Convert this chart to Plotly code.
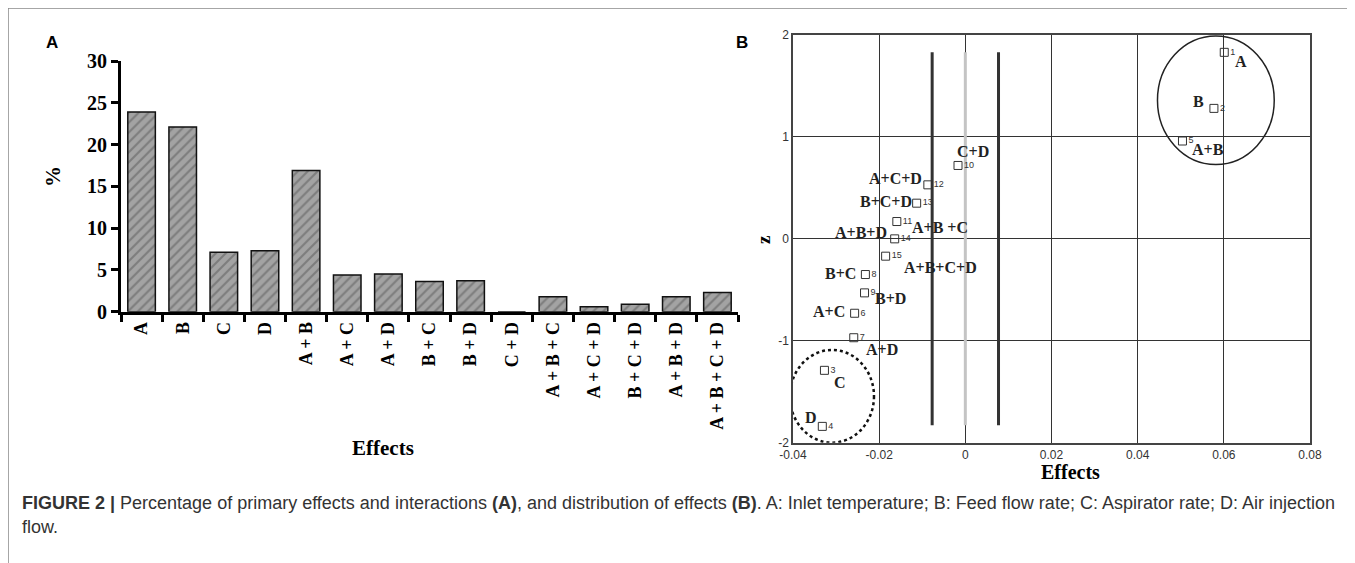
import plotly.graph_objects as go

# ---------------- data ----------------
effects_cat = ["A", "B", "C", "D", "A + B", "A + C", "A + D", "B + C", "B + D", "C + D",
               "A + B + C", "A + C + D", "B + C + D", "A + B + D", "A + B + C + D"]
percent = [23.9, 22.1, 7.1, 7.3, 16.9, 4.4, 4.5, 3.6, 3.7, 0.0, 1.8, 0.6, 0.9, 1.8, 2.3]

pt_names = ["A", "B", "C", "D", "A+B", "A+C", "A+D", "B+C", "B+D", "C+D",
            "A+B +C", "A+C+D", "B+C+D", "A+B+D", "A+B+C+D"]
pt_numbers = ["1", "2", "3", "4", "5", "6", "7", "8", "9", "10", "11", "12", "13", "14", "15"]
pt_effect = [0.0601, 0.0577, -0.0327, -0.0332, 0.0504, -0.0257, -0.0259, -0.0232, -0.0234,
             -0.0017, -0.0159, -0.0087, -0.0113, -0.0164, -0.0185]
pt_z = [1.83, 1.28, -1.29, -1.84, 0.96, -0.73, -0.97, -0.35, -0.53,
        0.72, 0.17, 0.53, 0.35, 0.0, -0.17]

threshold = 0.0077
threshold_z = [-1.83, 1.83]

x_ticks = [-0.04, -0.02, 0, 0.02, 0.04, 0.06, 0.08]
x_tick_text = ["-0.04", "-0.02", "0", "0.02", "0.04", "0.06", "0.08"]
y_ticks = [-2, -1, 0, 1, 2]
y_tick_text = ["-2", "-1", "0", "1", "2"]

# group circles (x0, x1, z0, z1)
circle_main = [0.0446, 0.0717, 0.73, 1.99]
circle_minor = [-0.0407, -0.0212, -2.0, -1.09]

# label pixel offsets (style/layout): dx right, dy down
label_offsets = [(17, 9), (-15, -7), (16, 12), (-11, -9), (26, 8), (-26, -2), (28, 12),
                 (-25, -1), (26, 6), (15, -14), (43, 6), (-32, -6), (-31, -2), (-34, -6), (55, 11)]

SERIF = "Liberation Serif"
SANS = "Liberation Sans"
W, H, OFF = 1355, 563, 8   # page body margin offset


def fx(px):
    return (px - OFF) / W


def fy(py):
    return 1 - (py - OFF) / H


fig = go.Figure()

fig.add_trace(go.Bar(
    x=effects_cat, y=percent, width=0.67,
    marker=dict(color="#a3a3a3", line=dict(color="#111", width=1.5),
                pattern=dict(shape="/", fgcolor="#7d7d7d", bgcolor="#a3a3a3", fillmode="replace",
                             size=7, solidity=0.3)),
    xaxis="x", yaxis="y", showlegend=False))

# threshold lines
fig.add_trace(go.Scatter(x=[-threshold, -threshold], y=threshold_z, mode="lines",
                         line=dict(color="#333", width=3), xaxis="x2", yaxis="y2", showlegend=False))
fig.add_trace(go.Scatter(x=[threshold, threshold], y=threshold_z, mode="lines",
                         line=dict(color="#333", width=3), xaxis="x2", yaxis="y2", showlegend=False))
fig.add_trace(go.Scatter(x=[0, 0], y=threshold_z, mode="lines",
                         line=dict(color="#c4c4c4", width=3), xaxis="x2", yaxis="y2", showlegend=False))

fig.add_trace(go.Scatter(
    x=pt_effect, y=pt_z, mode="markers+text", text=pt_numbers, textposition="middle right",
    textfont=dict(family=SANS, size=9, color="#333"),
    marker=dict(symbol="square-open", size=8, color="#333", line=dict(width=1)),
    xaxis="x2", yaxis="y2", showlegend=False, cliponaxis=False))

annotations = []
for name, xe, z, (dx, dy) in zip(pt_names, pt_effect, pt_z, label_offsets):
    annotations.append(dict(x=xe, y=z, xref="x2", yref="y2", text=name, showarrow=False,
                            xshift=dx, yshift=-dy,
                            font=dict(family=SERIF, size=16, color="#222", weight="bold")))


def pa(text, x, y, size, family, color="#000", bold=False, angle=0, xanchor="center"):
    annotations.append(dict(x=fx(x), y=fy(y), xref="paper", yref="paper", text=text,
                            showarrow=False, textangle=angle, xanchor=xanchor, yanchor="middle",
                            font=dict(family=family, size=size, color=color,
                                      weight="bold" if bold else "normal")))


pa("A", 52, 43, 17, SANS, bold=True)
pa("B", 742, 43, 17, SANS, bold=True)
pa("%", 53, 177, 21, SERIF, bold=True, angle=-90)
pa("Effects", 383, 448, 21, SERIF, bold=True)
pa("z", 763, 240, 19, SERIF, bold=True, angle=-90)
pa("Effects", 1070, 472, 20, SERIF, bold=True)
pa("<b>FIGURE 2 |</b> Percentage of primary effects and interactions <b>(A)</b>, and distribution of effects "
   "<b>(B)</b>. A: Inlet temperature; B: Feed flow rate; C: Aspirator rate; D: Air injection",
   20, 503, 18, SANS, color="#333", xanchor="left")
pa("flow.", 20, 527, 18, SANS, color="#333", xanchor="left")

shapes = [
    dict(type="circle", xref="x2", yref="y2", x0=circle_main[0], x1=circle_main[1],
         y0=circle_main[2], y1=circle_main[3], line=dict(color="#222", width=1.5)),
    dict(type="circle", xref="x2", yref="y2", x0=circle_minor[0], x1=circle_minor[1],
         y0=circle_minor[2], y1=circle_minor[3], line=dict(color="#111", width=2.5, dash="dot")),
    dict(type="line", xref="paper", yref="paper", x0=fx(8), x1=1, y0=fy(8), y1=fy(8),
         line=dict(color="#888", width=1.5)),
    dict(type="line", xref="paper", yref="paper", x0=fx(8), x1=fx(8), y0=0, y1=fy(8),
         line=dict(color="#888", width=1.5)),
]

fig.update_layout(
    template="none",
    width=W, height=H, margin=dict(l=0, r=0, t=0, b=0, autoexpand=False),
    plot_bgcolor="white", paper_bgcolor="white",
    annotations=annotations, shapes=shapes,
    xaxis=dict(domain=[fx(121), fx(738)], type="category", tickangle=-90, automargin=False,
               showline=True, linecolor="#000", linewidth=3, ticks="outside", tickson="boundaries",
               ticklen=7, tickwidth=3, tickcolor="#000", showgrid=False,
               tickfont=dict(family=SERIF, size=18, color="#000", weight="bold"), anchor="y"),
    yaxis=dict(domain=[fy(311.7), fy(61)], range=[0, 30], dtick=5, automargin=False,
               showline=True, linecolor="#000", linewidth=3, ticks="outside", ticklen=7, tickwidth=3,
               tickcolor="#000", showgrid=False, zeroline=False,
               tickfont=dict(family=SERIF, size=20, color="#000", weight="bold"), anchor="x"),
    xaxis2=dict(domain=[fx(793), fx(1310)], range=[-0.04, 0.08], tickvals=x_ticks, automargin=False,
                ticktext=x_tick_text, showgrid=True, gridcolor="#333", gridwidth=1.3, zeroline=False,
                showline=True, mirror=True, linecolor="#444", linewidth=1.5, ticks="",
                tickfont=dict(family=SANS, size=12, color="#333"), anchor="y2"),
    yaxis2=dict(domain=[fy(442.7), fy(35)], range=[-2, 2], tickvals=y_ticks, automargin=False,
                ticktext=y_tick_text, showgrid=True, gridcolor="#333", gridwidth=1.3, zeroline=False,
                showline=True, mirror=True, linecolor="#444", linewidth=1.5, ticks="",
                tickfont=dict(family=SANS, size=12, color="#333"), anchor="x2"),
)

fig.write_html("out.html")
